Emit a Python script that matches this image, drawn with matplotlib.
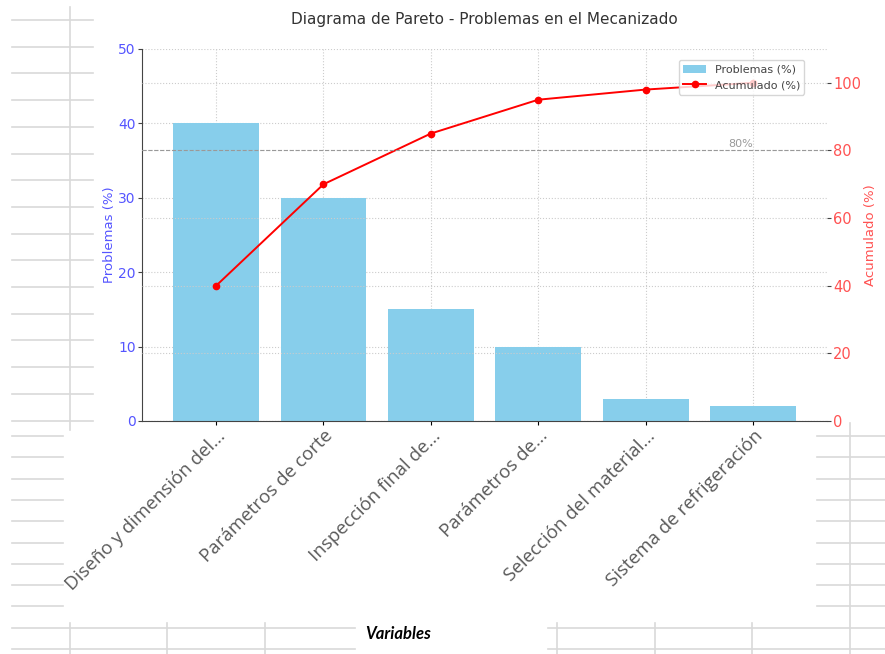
import matplotlib.pyplot as plt
from matplotlib.lines import Line2D
from matplotlib.transforms import ScaledTranslation

categories = [
    "Diseño y dimensión del...",
    "Parámetros de corte",
    "Inspección final de...",
    "Parámetros de...",
    "Selección del material...",
    "Sistema de refrigeración",
]
problemas = [40, 30, 15, 10, 3, 2]
acumulado = [40, 70, 85, 95, 98, 100]

blue_txt = "#5555ff"
red_txt = "#ff5252"

fig = plt.figure(figsize=(8.85, 6.54), dpi=100)

# spreadsheet cells behind the pasted chart (pixel coords, origin top-left)
H = 654
def cell_line(x0, x1, y0, y1):
    fig.add_artist(Line2D([x0, x1], [H - y0, H - y1], transform=None,
                          color="#d9d9d9", linewidth=1.2, zorder=-5))

for k in range(16):
    y = 20 + k * 26.7
    if y < 425:
        cell_line(12, 93, y, y)
for k in range(9):
    y = 436 + k * 21.3
    cell_line(12, 63, y, y)
    cell_line(817, 885, y, y)
for y in (628, 649):
    cell_line(12, 355, y, y)
    cell_line(548, 885, y, y)
cell_line(70, 70, 7, 430)
for x in (70, 167, 265, 557, 655, 752):
    cell_line(x, x, 623, 654)
cell_line(850, 850, 423, 654)

ax = fig.add_axes([0.1605, 0.3563, 0.774, 0.5688])
x = range(len(categories))
ax.bar(x, problemas, width=0.8, color="skyblue", label="Problemas (%)", zorder=2)
ax.set_ylim(0, 50)
ax.tick_params(axis="y", colors=blue_txt, labelsize=10, length=3, pad=1.5)
ax.tick_params(axis="y", color="#444444")
ax.tick_params(axis="x", length=3)
ax.set_xticks(list(x))
ax.set_xticklabels(categories, rotation=45, ha="right", fontsize=13.5,
                   family="Open Sans", color="#595959")
offset = ScaledTranslation(13 / 100, 3 / 100, fig.dpi_scale_trans)
for lbl in ax.get_xticklabels():
    lbl.set_transform(lbl.get_transform() + offset)
ax.set_ylabel("Problemas (%)", color=blue_txt, fontsize=9.5)
ax.yaxis.set_label_coords(-0.038, 0.5)
ax.set_xlabel("Variables", fontsize=12, fontweight="bold", style="italic",
              family="Lato", color="black")
ax.xaxis.set_label_coords(0.374, -0.551)
ax.grid(True, linestyle=":", color="#cccccc", linewidth=0.8, zorder=0)
ax.set_axisbelow(True)
for s in ("top", "right"):
    ax.spines[s].set_visible(False)
ax.spines["left"].set_color("#444444")
ax.spines["bottom"].set_color("#444444")

ax2 = ax.twinx()
ax2.plot(list(x), acumulado, color="red", marker="o", markersize=4.5,
         linewidth=1.4, label="Acumulado (%)")
ax2.set_ylim(0, 110)
ax2.axhline(80, color="#999999", linestyle="--", linewidth=0.8)
ax2.text(len(categories) - 1, 80.4, "80%", ha="right", va="bottom",
         fontsize=8, color="#999999")
ax2.set_yticks([0, 20, 40, 60, 80, 100])
ax2.tick_params(axis="y", colors=red_txt, labelsize=10.5, length=3, pad=1.5)
ax2.tick_params(axis="y", color="#444444")
ax2.set_ylabel("Acumulado (%)", color=red_txt, fontsize=9.5, labelpad=2)
ax2.grid(True, axis="y", linestyle=":", color="#cccccc", linewidth=0.8)
for s in ("top", "right", "left", "bottom"):
    ax2.spines[s].set_visible(False)

h1, l1 = ax.get_legend_handles_labels()
h2, l2 = ax2.get_legend_handles_labels()
leg = ax2.legend(h1 + h2, l1 + l2, loc="upper right", fontsize=8,
                 bbox_to_anchor=(0.975, 0.985))
for t in leg.get_texts():
    t.set_color("#444444")

ax.set_title("Diagrama de Pareto - Problemas en el Mecanizado", fontsize=11,
             color="#333333", pad=18)

fig.savefig("out.png", dpi=100)
